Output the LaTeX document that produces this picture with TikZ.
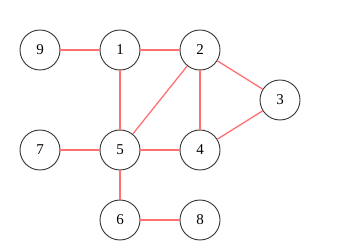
\documentclass[tikz,border=0pt]{standalone}
\usepackage{fontspec}
\setmainfont{Liberation Serif}
\begin{document}
\begin{tikzpicture}[x=1pt,y=-1pt,
  vtx/.style={circle,draw=black!80,line width=0.9pt,fill=white,minimum size=40pt,inner sep=0pt,font=\fontsize{15}{17}\selectfont},
  edge/.style={draw={rgb,255:red,255;green,112;blue,112},line width=1.3pt}]
\useasboundingbox (0,0) rectangle (350,245);
\node[vtx] (n9) at (40,50) {9};
\node[vtx] (n1) at (120,50) {1};
\node[vtx] (n2) at (200,50) {2};
\node[vtx] (n3) at (280,100) {3};
\node[vtx] (n7) at (40,150) {7};
\node[vtx] (n5) at (120,150) {5};
\node[vtx] (n4) at (200,150) {4};
\node[vtx] (n6) at (120,220) {6};
\node[vtx] (n8) at (200,220) {8};
\path[edge] (n9) -- (n1);
\path[edge] (n1) -- (n2);
\path[edge] (n1) -- (n5);
\path[edge] (n2) -- (n5);
\path[edge] (n2) -- (n4);
\path[edge] (n2) -- (n3);
\path[edge] (n3) -- (n4);
\path[edge] (n7) -- (n5);
\path[edge] (n5) -- (n4);
\path[edge] (n5) -- (n6);
\path[edge] (n6) -- (n8);
\end{tikzpicture}
\end{document}
